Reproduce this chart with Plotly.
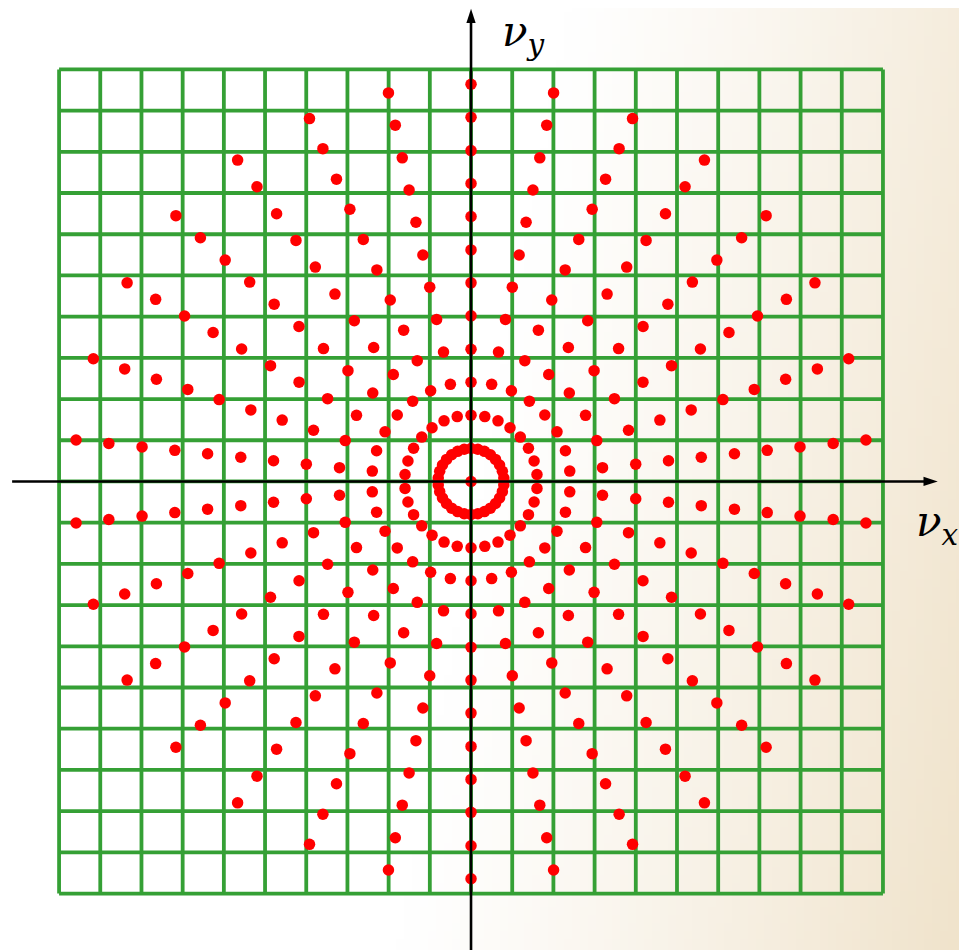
import base64
import struct
import zlib

import numpy as np
import plotly.graph_objects as go

# polar sampling pattern: spokes every 12 deg (offset 6 deg), rings every ~0.8 grid cells
spoke_angles = [6, 18, 30, 42, 54, 66, 78, 90, 102, 114, 126, 138, 150, 162, 174,
                186, 198, 210, 222, 234, 246, 258, 270, 282, 294, 306, 318, 330, 342, 354]
ring_radii = [0.80, 1.61, 2.41, 3.21, 4.02, 4.82, 5.62, 6.43, 7.23, 8.03, 8.84, 9.64]

# cartesian grid (cell = 1 unit)
grid_lines = list(range(-10, 11))

# axis arrows (tail -> tip) in grid units
x_axis = ([-11.14, 11.13], [0, 0], 11.33)
y_axis = ([0, 0], [-11.45, 11.27], 11.47)

# visible window in grid units (origin at the axis crossing)
# page body adds an 8px margin, so the figure is 8px smaller than the window
x_range = [-11.24, 12.04]
y_range = [-11.37, 11.49]

W, H = 959, 942


def gradient_png(w=120, h=118):
    # soft white -> beige slide background
    yy, xx = np.mgrid[0:h, 0:w]
    u = xx / (w - 1)
    v = yy / (h - 1)
    t = np.clip((u * 0.95 + v * 0.17 - 0.56) / 0.56, 0, 1) ** 1.15
    white = np.array([255, 255, 255], float)
    beige = np.array([240, 227, 203], float)
    img = (white[None, None, :] * (1 - t[..., None]) + beige[None, None, :] * t[..., None]).astype(np.uint8)
    raw = b"".join(b"\x00" + img[r].tobytes() for r in range(h))

    def chunk(tag, data):
        c = struct.pack(">I", len(data)) + tag + data
        return c + struct.pack(">I", zlib.crc32(tag + data) & 0xffffffff)

    png = b"\x89PNG\r\n\x1a\n"
    png += chunk(b"IHDR", struct.pack(">IIBBBBB", w, h, 8, 2, 0, 0, 0))
    png += chunk(b"IDAT", zlib.compress(raw, 9))
    png += chunk(b"IEND", b"")
    return "data:image/png;base64," + base64.b64encode(png).decode()


fig = go.Figure()

# grid lines
gx, gy = [], []
for g in grid_lines:
    gx += [g, g, None, grid_lines[0], grid_lines[-1], None]
    gy += [grid_lines[0], grid_lines[-1], None, g, g, None]
fig.add_trace(go.Scatter(x=gx, y=gy, mode="lines",
                         line=dict(color="#35a035", width=3.8),
                         hoverinfo="skip", showlegend=False))

# sample points
th = np.deg2rad(np.array(spoke_angles, float))
px, py = [0.0], [0.0]
for r in ring_radii:
    px += list(r * np.cos(th))
    py += list(r * np.sin(th))
fig.add_trace(go.Scatter(x=px, y=py, mode="markers",
                         marker=dict(color="#ff0000", size=11.5, line=dict(width=0)),
                         showlegend=False))

# axes
for (ax_x, ax_y, tip), ang in ((x_axis, 90), (y_axis, 0)):
    fig.add_trace(go.Scatter(x=ax_x, y=ax_y, mode="lines",
                             line=dict(color="black", width=2.6),
                             showlegend=False, cliponaxis=False))
    tx, ty = (tip, 0) if ang == 90 else (0, tip)
    fig.add_trace(go.Scatter(x=[tx], y=[ty], mode="markers",
                             marker=dict(symbol="arrow", angle=ang, size=15, color="black",
                                         line=dict(width=0)),
                             showlegend=False, cliponaxis=False))

lab = dict(showarrow=False, xref="x", yref="y",
           font=dict(family="DejaVu Serif", size=42, color="black"))
fig.add_annotation(x=1.27, y=10.84, text="<i>ν<sub>y</sub></i>", **lab)
fig.add_annotation(x=11.33, y=-1.05, text="<i>ν<sub>x</sub></i>", **lab)

fig.add_layout_image(dict(source=gradient_png(), xref="paper", yref="paper",
                          x=0, y=1, sizex=1, sizey=1, sizing="stretch",
                          xanchor="left", yanchor="top", layer="below"))

fig.update_layout(
    width=W, height=H,
    margin=dict(l=0, r=0, t=0, b=0),
    paper_bgcolor="white",
    plot_bgcolor="rgba(0,0,0,0)",
    xaxis=dict(range=x_range, visible=False, showgrid=False, zeroline=False),
    yaxis=dict(range=y_range, visible=False, showgrid=False, zeroline=False),
    hovermode=False,
)

fig.write_html("out.html")
